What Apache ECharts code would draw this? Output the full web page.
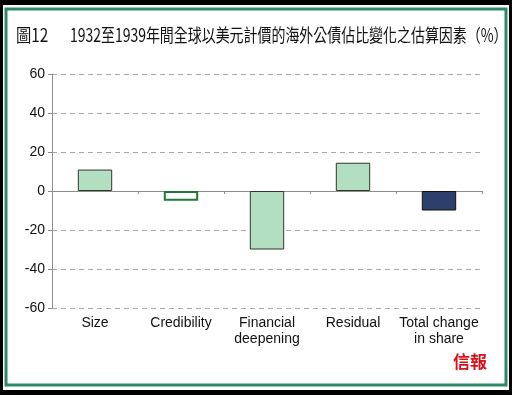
<!DOCTYPE html>
<html>
<head>
<meta charset="utf-8">
<script src="https://cdn.jsdelivr.net/npm/echarts@6/dist/echarts.min.js"></script>
<style>
html,body{margin:0;padding:0;background:#000;}
#c{width:512px;height:395px;}
</style>
</head>
<body>
<div id="c"></div>
<script>
const figLabel = '圖12';
const titleText = '1932至1939年間全球以美元計價的海外公債佔比變化之估算因素（%）';
const categories = ['Size', 'Credibility', 'Financial\ndeepening', 'Residual', 'Total change\nin share'];
const values = [11, -5, -30, 14.5, -10];
const yMin = -60, yMax = 60, yStep = 20;

const fills = ['#b3dfc1', '#ffffff', '#b3dfc1', '#b3dfc1', '#2f3f6b'];
const borders = ['#333333', '#1e7a35', '#333333', '#333333', '#111111'];
const borderWidths = [1, 2, 1, 1, 1];

const chart = echarts.init(document.getElementById('c'));
chart.setOption({
  backgroundColor: '#000',
  animation: false,
  graphic: [
    { type: 'rect', z: -10, shape: { x: 3, y: 5, width: 506, height: 385 }, style: { fill: '#ffffff' } },
    { type: 'rect', z: -9, shape: { x: 6, y: 9, width: 500, height: 376 }, style: { fill: '#ffffff', stroke: '#2e8a66', lineWidth: 3 } },
    { type: 'text', x: 16, y: 26, scaleX: 0.85, style: { text: figLabel, font: '18px "Noto Sans CJK TC", sans-serif', fill: '#111' } },
    { type: 'text', x: 70, y: 26, scaleX: 0.775, style: { text: titleText, font: '18px "Noto Sans CJK TC", sans-serif', fill: '#111' } },
    { type: 'text', x: 453, y: 353, style: { text: '信報', font: 'bold 17px "Noto Sans CJK TC", serif', fill: '#d8101a' } }
  ],
  grid: { left: 52, right: 30, top: 74, bottom: 87, containLabel: false },
  xAxis: [
    {
      type: 'category', data: categories, position: 'bottom',
      axisLine: { onZero: true, lineStyle: { color: '#8c8c8c', width: 1 } },
      axisTick: { show: true, length: 3, interval: 0, lineStyle: { color: '#8c8c8c' } },
      axisLabel: { show: false },
      splitLine: { show: false }
    },
    {
      type: 'category', data: categories, position: 'bottom',
      axisLine: { show: false, onZero: false },
      axisTick: { show: false },
      axisLabel: { show: true, interval: 0, color: '#111', fontSize: 14, fontFamily: 'Liberation Sans, Arial, sans-serif', lineHeight: 16, margin: 7 }
    }
  ],
  yAxis: {
    type: 'value', min: yMin, max: yMax, interval: yStep,
    axisLine: { show: true, lineStyle: { color: '#8c8c8c' } },
    axisTick: { show: true, length: 4, lineStyle: { color: '#8c8c8c' } },
    axisLabel: { color: '#111', fontSize: 14, fontFamily: 'Liberation Sans, Arial, sans-serif', margin: 7 },
    splitLine: { show: true, lineStyle: { color: '#a8a8a8', type: [5, 4], width: 1 } }
  },
  series: [{
    type: 'bar', xAxisIndex: 0, barWidth: '40%',
    data: values.map((v, i) => ({
      value: v,
      itemStyle: { color: fills[i], borderColor: borders[i], borderWidth: borderWidths[i] }
    }))
  }]
});
</script>
</body>
</html>
